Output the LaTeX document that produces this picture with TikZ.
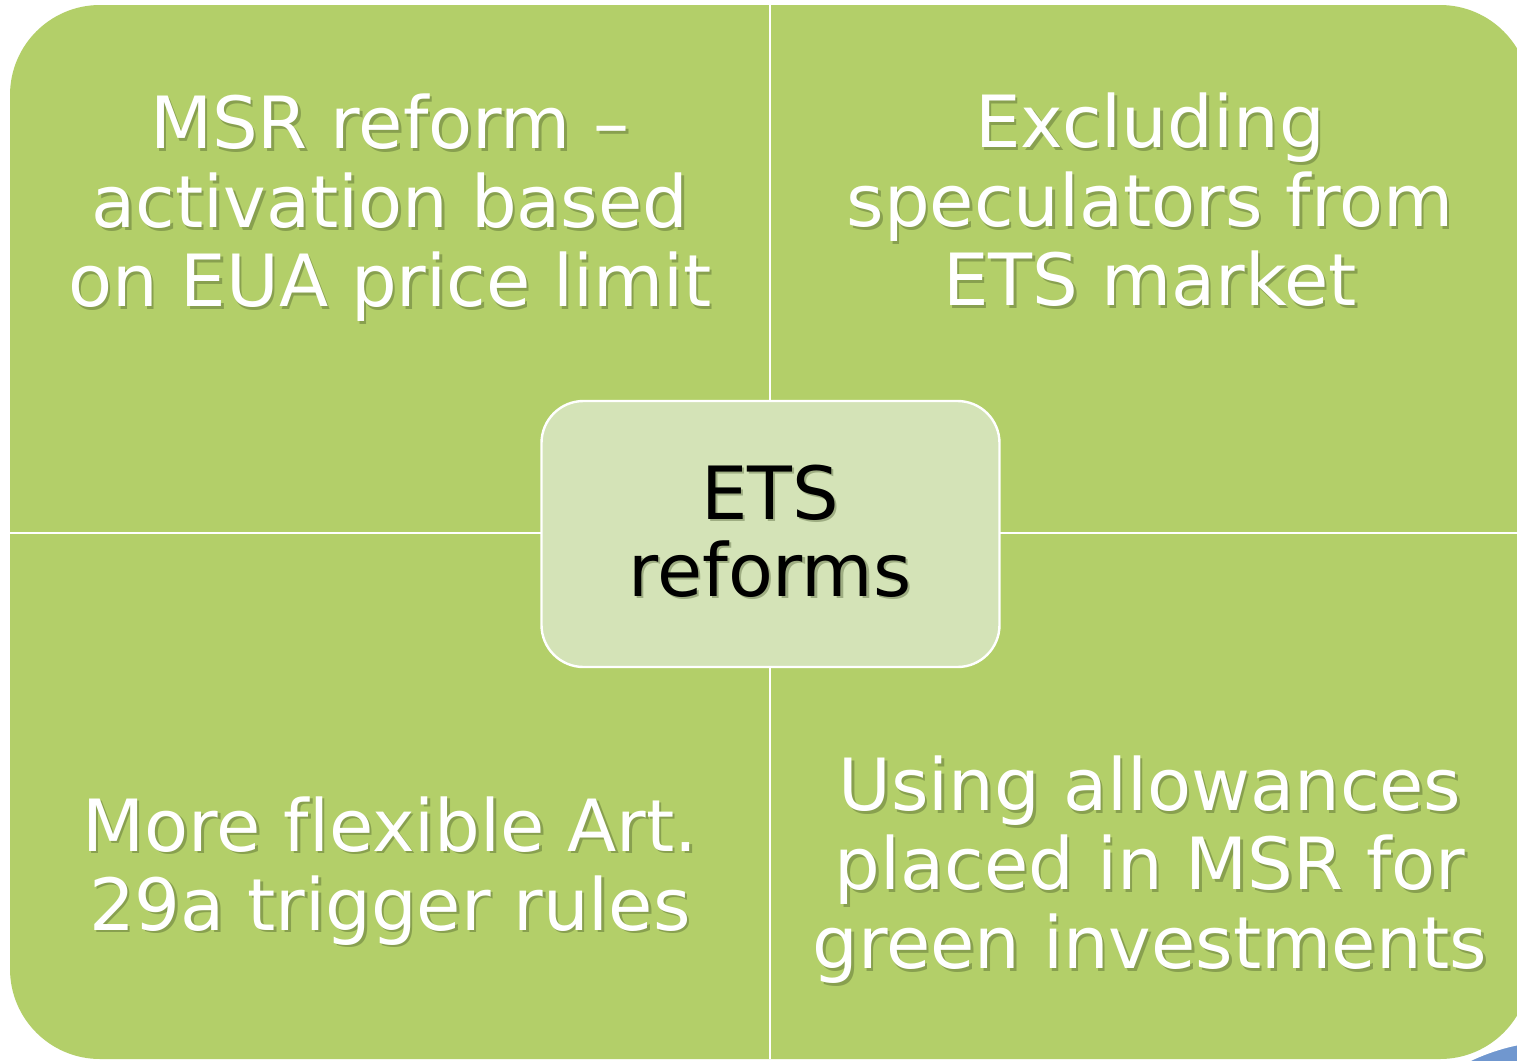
\documentclass[tikz,border=0pt]{standalone}
\usepackage{fontspec}
\setmainfont[Ligatures=NoCommon]{DejaVu Sans}
\definecolor{quadgreen}{HTML}{B3CF69}
\definecolor{centergreen}{HTML}{D4E3B7}
\definecolor{sideblue}{HTML}{7097CF}
\definecolor{shadegray}{HTML}{3A4A20}
\tikzset{
  quadtxt/.style={text=white, align=center, inner sep=0pt,
    font=\fontsize{36pt}{39.5pt}\selectfont},
  centertxt/.style={text=black, align=center, inner sep=0pt,
    font=\fontsize{36.7pt}{38.5pt}\selectfont},
  shadowtxt/.style={text=shadegray, text opacity=0.35},
}
\begin{document}
\begin{tikzpicture}[x=0.5pt,y=-0.5pt]
\useasboundingbox (0,0) rectangle (1517,1061);
\clip (0,0) rectangle (1517,1061);
\fill[white] (0,0) rectangle (1517,1061);
% side blue shape peeking in
\fill[sideblue, draw=white, line width=3pt] (1560,1250) circle[radius=212];
% outer rounded field
\fill[quadgreen, rounded corners=45pt] (10,5) rectangle (1530,1059);
% dividers
\coordinate (vtop) at (770,5);
\coordinate (vbot) at (770,1059);
\coordinate (hleft) at (10,533);
\coordinate (hright) at (1530,533);
\draw[white, line width=1pt] (vtop) -- (vbot);
\draw[white, line width=1pt] (hleft) -- (hright);
% center box
\node[draw=white, line width=1.2pt, fill=centergreen, rounded corners=21pt,
  minimum width=229pt, minimum height=133pt, inner sep=0pt] (box) at (770.5,534) {};
% quadrant texts (shadow + text)
\node[quadtxt, shadowtxt] (q1s) at (392.5,210.5) {MSR reform –\\activation based\\on EUA price limit};
\node[quadtxt] (q1) at (390,208) {MSR reform –\\activation based\\on EUA price limit};
\node[quadtxt, shadowtxt] (q2s) at (1152.5,202.5) {Excluding\\speculators from\\ETS market};
\node[quadtxt] (q2) at (1150,200) {Excluding\\speculators from\\ETS market};
\node[quadtxt, shadowtxt] (q3s) at (392.5,873.5) {More flexible Art.\\29a trigger rules};
\node[quadtxt] (q3) at (390,871) {More flexible Art.\\29a trigger rules};
\node[quadtxt, shadowtxt] (q4s) at (1152.5,872.5) {Using allowances\\placed in MSR for\\green investments};
\node[quadtxt] (q4) at (1150,870) {Using allowances\\placed in MSR for\\green investments};
\node[centertxt, shadowtxt] (cs) at (772.5,533.5) {ETS\\reforms};
\node[centertxt] (c) at (770,531) {ETS\\reforms};
\end{tikzpicture}
\end{document}
